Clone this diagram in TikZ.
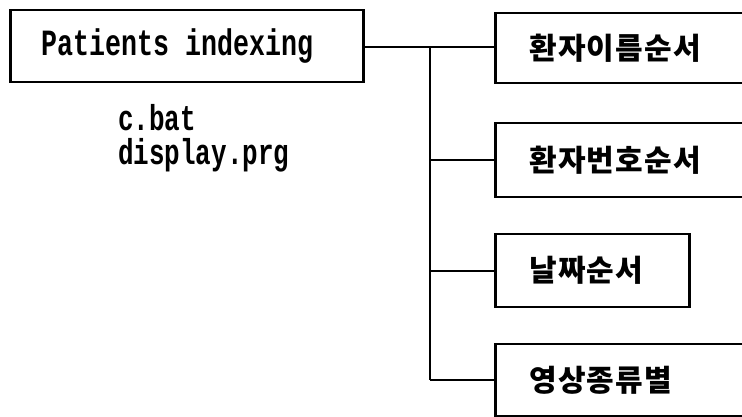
\documentclass[tikz,border=0pt]{standalone}
\usepackage{fontspec}
\newfontfamily\codefont{Liberation Mono}[FakeStretch=0.72]
\newfontfamily\krfont{Noto Sans CJK KR}[LetterSpace=4]
\tikzset{
  mainbox/.style={draw, line width=2.6pt, anchor=west, align=left, text width=291pt,
    inner xsep=31pt, minimum height=72pt, inner ysep=0pt,
    font=\codefont\bfseries\fontsize{37}{40}\selectfont},
  itembox/.style={draw, line width=2.6pt, anchor=west, align=left, inner xsep=34pt,
    inner ysep=0pt, font=\krfont\bfseries\fontsize{30}{32}\selectfont},
  codetext/.style={anchor=base west, inner sep=0pt, text height=22pt, text depth=6pt,
    font=\codefont\bfseries\fontsize{36}{38}\selectfont},
  link/.style={line width=2pt}
}
\begin{document}
\begin{tikzpicture}[x=1pt, y=-1pt]
  \clip (0,0) rectangle (742,417);
  \fill[white] (0,0) rectangle (742,417);

  % main program box and its files (one full character cell between the words)
  \node[mainbox] (main) at (9,46) {Patients\hspace{16pt}indexing};
  \node[codetext] (batfile) at (118,131) {c.bat};
  \node[codetext] (prgfile) at (118,165) {display.prg};

  % sort orders
  \node[itembox, text width=198pt, minimum height=70pt] (byname) at (494,48) {환자이름순서};
  \node[itembox, text width=198pt, minimum height=74pt] (bynum) at (494,160) {환자번호순서};
  \node[itembox, text width=126pt, minimum height=73pt] (bydate) at (494,270.5) {날짜순서};
  \node[itembox, text width=198pt, minimum height=72pt] (bytype) at (494,380) {영상종류별};

  % tree connectors
  \coordinate (trunktop) at (430,47);
  \coordinate (trunkbot) at (430,380);
  \draw[link] (main.east |- trunktop) -- (byname.west |- trunktop);
  \draw[link] (trunktop) -- (trunkbot);
  \draw[link] (bynum.west -| trunktop) -- (bynum.west);
  \draw[link] (bydate.west -| trunktop) -- (bydate.west);
  \draw[link] (bytype.west -| trunktop) -- (bytype.west);
\end{tikzpicture}
\end{document}
